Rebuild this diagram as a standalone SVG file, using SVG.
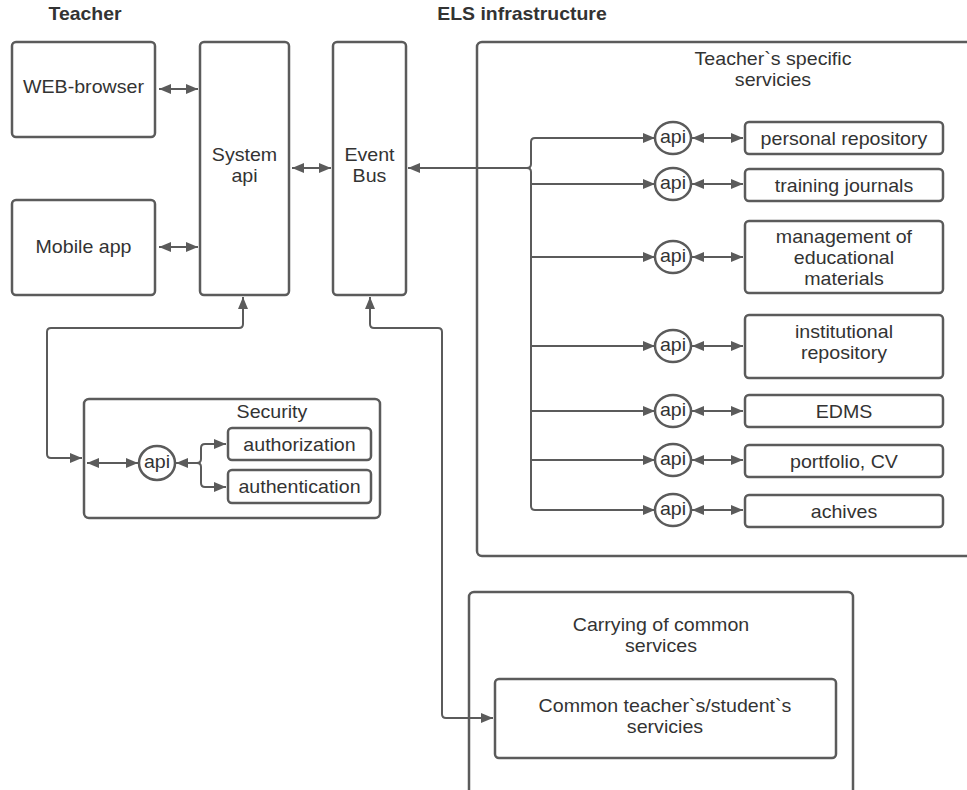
<svg xmlns="http://www.w3.org/2000/svg" width="967" height="790" viewBox="0 0 967 790">
<style>
.bg{fill:#fff}
.box{fill:#fff;stroke:#5b5b5b;stroke-width:2.5}
.grp{fill:#fff;stroke:#5b5b5b;stroke-width:2.5}
.api{fill:#fff;stroke:#5b5b5b;stroke-width:2.5}
.ln{fill:none;stroke:#5b5b5b;stroke-width:2}
.t{font-family:"Liberation Sans",Arial,sans-serif;font-size:18px;fill:#333;text-anchor:middle;transform-box:fill-box;transform-origin:center;transform:scaleX(1.09)}
.h{font-family:"Liberation Sans",Arial,sans-serif;font-size:18px;font-weight:bold;fill:#333;text-anchor:middle;transform-box:fill-box;transform-origin:center;transform:scaleX(1.08)}
</style>
<defs>
<marker id="ah" markerUnits="userSpaceOnUse" markerWidth="12" markerHeight="10" viewBox="0 0 12 10" refX="12" refY="5" orient="auto-start-reverse">
<path d="M0,0 L12,5 L0,10 z" fill="#5b5b5b"/>
</marker>
</defs>
<rect class="bg" x="0" y="0" width="967" height="790"/>

<text class="h" x="85" y="20">Teacher</text>
<text class="h" x="522" y="20">ELS infrastructure</text>

<g id="teacher-specific">
<rect class="grp" x="477" y="42" width="510" height="514" rx="5"/>
<text class="t" x="773" y="65">Teacher`s specific</text>
<text class="t" x="773" y="86">servicies</text>
</g>

<g id="carrying">
<rect class="grp" x="469" y="592" width="384" height="230" rx="5"/>
<text class="t" x="661" y="631">Carrying of common</text>
<text class="t" x="661" y="652">services</text>
</g>

<g id="security">
<rect class="grp" x="84" y="399" width="296" height="119" rx="5"/>
<text class="t" x="272" y="418">Security</text>
</g>

<g id="connectors">
<path class="ln" d="M159,89 H198" marker-start="url(#ah)" marker-end="url(#ah)"/>
<path class="ln" d="M159,247 H198" marker-start="url(#ah)" marker-end="url(#ah)"/>
<path class="ln" d="M292,168 H331" marker-start="url(#ah)" marker-end="url(#ah)"/>
<path class="ln" d="M527,168 H408" marker-end="url(#ah)"/>
<path class="ln" d="M527,168 q4,0 4,-4 V142 q0,-4 4,-4 H655" marker-end="url(#ah)"/>
<path class="ln" d="M527,168 q4,0 4,4 V506 q0,4 4,4 H655" marker-end="url(#ah)"/>
<path class="ln" d="M531,184 H655" marker-end="url(#ah)"/>
<path class="ln" d="M531,257 H655" marker-end="url(#ah)"/>
<path class="ln" d="M531,346 H655" marker-end="url(#ah)"/>
<path class="ln" d="M531,411 H655" marker-end="url(#ah)"/>
<path class="ln" d="M531,460 H655" marker-end="url(#ah)"/>
<path class="ln" d="M692,138 H743" marker-start="url(#ah)" marker-end="url(#ah)"/>
<path class="ln" d="M692,184 H743" marker-start="url(#ah)" marker-end="url(#ah)"/>
<path class="ln" d="M692,257 H743" marker-start="url(#ah)" marker-end="url(#ah)"/>
<path class="ln" d="M692,346 H743" marker-start="url(#ah)" marker-end="url(#ah)"/>
<path class="ln" d="M692,411 H743" marker-start="url(#ah)" marker-end="url(#ah)"/>
<path class="ln" d="M692,460 H743" marker-start="url(#ah)" marker-end="url(#ah)"/>
<path class="ln" d="M692,510 H743" marker-start="url(#ah)" marker-end="url(#ah)"/>
<path class="ln" d="M243,297 V324 q0,4 -4,4 H51 q-4,0 -4,4 V454 q0,4 4,4 H82" marker-start="url(#ah)" marker-end="url(#ah)"/>
<path class="ln" d="M370,297 V324 q0,4 4,4 H438 q4,0 4,4 V714 q0,4 4,4 H493" marker-start="url(#ah)" marker-end="url(#ah)"/>
<path class="ln" d="M87,463 H138" marker-start="url(#ah)" marker-end="url(#ah)"/>
<path class="ln" d="M197,463 H176" marker-end="url(#ah)"/>
<path class="ln" d="M197,463 q4,0 4,-4 V448 q0,-4 4,-4 H226" marker-end="url(#ah)"/>
<path class="ln" d="M197,463 q4,0 4,4 V483 q0,4 4,4 H226" marker-end="url(#ah)"/>
</g>

<g id="web-browser">
<rect class="box" x="12" y="42" width="143" height="95" rx="4"/>
<text class="t" x="83.5" y="93">WEB-browser</text>
</g>
<g id="mobile-app">
<rect class="box" x="12" y="200" width="143" height="95" rx="4"/>
<text class="t" x="83.5" y="253">Mobile app</text>
</g>
<g id="system-api">
<rect class="box" x="200" y="42" width="89" height="253" rx="4"/>
<text class="t" x="244.5" y="161">System</text>
<text class="t" x="244.5" y="182">api</text>
</g>
<g id="event-bus">
<rect class="box" x="333" y="42" width="73" height="253" rx="4"/>
<text class="t" x="369.5" y="161">Event</text>
<text class="t" x="369.5" y="182">Bus</text>
</g>

<g id="api1"><ellipse class="api" cx="673" cy="138" rx="18" ry="16"/><text class="t" x="673" y="143">api</text></g>
<g id="api2"><ellipse class="api" cx="673" cy="184" rx="18" ry="16"/><text class="t" x="673" y="189">api</text></g>
<g id="api3"><ellipse class="api" cx="673" cy="257" rx="18" ry="16"/><text class="t" x="673" y="262">api</text></g>
<g id="api4"><ellipse class="api" cx="673" cy="346" rx="18" ry="16"/><text class="t" x="673" y="351">api</text></g>
<g id="api5"><ellipse class="api" cx="673" cy="411" rx="18" ry="16"/><text class="t" x="673" y="416">api</text></g>
<g id="api6"><ellipse class="api" cx="673" cy="460" rx="18" ry="16"/><text class="t" x="673" y="465">api</text></g>
<g id="api7"><ellipse class="api" cx="673" cy="510" rx="18" ry="16"/><text class="t" x="673" y="515">api</text></g>

<g id="personal-repository">
<rect class="box" x="745" y="122" width="198" height="32" rx="4"/>
<text class="t" x="844" y="145">personal repository</text>
</g>
<g id="training-journals">
<rect class="box" x="745" y="169" width="198" height="32" rx="4"/>
<text class="t" x="844" y="192">training journals</text>
</g>
<g id="management">
<rect class="box" x="745" y="221" width="198" height="72" rx="4"/>
<text class="t" x="844" y="243">management of</text>
<text class="t" x="844" y="264">educational</text>
<text class="t" x="844" y="285">materials</text>
</g>
<g id="institutional-repository">
<rect class="box" x="745" y="315" width="198" height="63" rx="4"/>
<text class="t" x="844" y="338">institutional</text>
<text class="t" x="844" y="359">repository</text>
</g>
<g id="edms">
<rect class="box" x="745" y="395" width="198" height="32" rx="4"/>
<text class="t" x="844" y="418">EDMS</text>
</g>
<g id="portfolio">
<rect class="box" x="745" y="445" width="198" height="32" rx="4"/>
<text class="t" x="844" y="468">portfolio, CV</text>
</g>
<g id="achives">
<rect class="box" x="745" y="495" width="198" height="32" rx="4"/>
<text class="t" x="844" y="518">achives</text>
</g>

<g id="security-api"><ellipse class="api" cx="157" cy="463" rx="18" ry="17"/><text class="t" x="157" y="468">api</text></g>
<g id="authorization">
<rect class="box" x="228" y="428" width="143" height="32" rx="4"/>
<text class="t" x="299.5" y="451">authorization</text>
</g>
<g id="authentication">
<rect class="box" x="228" y="470" width="143" height="33" rx="4"/>
<text class="t" x="299.5" y="493">authentication</text>
</g>

<g id="common-services">
<rect class="box" x="495" y="679" width="341" height="79" rx="4"/>
<text class="t" x="665" y="712">Common teacher`s/student`s</text>
<text class="t" x="665" y="733">servicies</text>
</g>
</svg>
